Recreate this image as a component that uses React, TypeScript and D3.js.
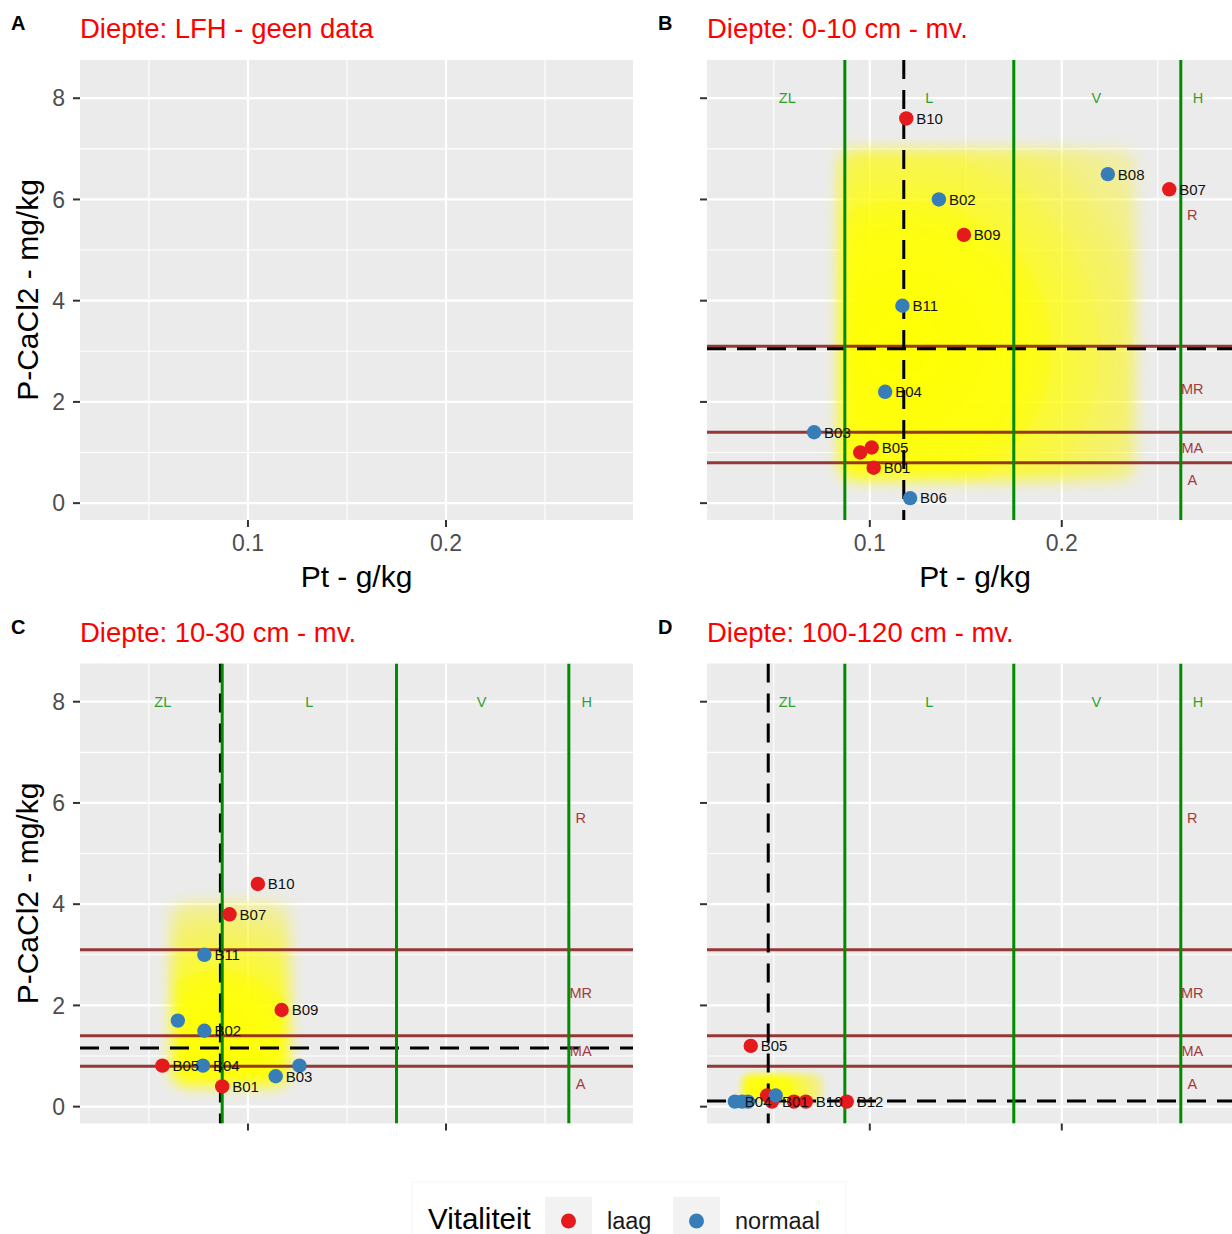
import React from 'react';
import * as d3 from 'd3';

const FONT = '"Liberation Sans", Arial, Helvetica, sans-serif';
const W = 1232;
const H = 1234;

// shared axes
const xDomain = [0.0152, 0.2944];
const yDomain = [-0.333, 8.755];
const xMajor = [0.1, 0.2];
const xMinor = [0.05, 0.15, 0.25];
const yMajor = [0, 2, 4, 6, 8];
const yMinor = [1, 3, 5, 7];

// class boundaries (Pt vertical, P-CaCl2 horizontal)
const ptBounds = [0.087, 0.175, 0.262];
const ptClasses = ['ZL', 'L', 'V', 'H'];
const ptClassX = [0.057, 0.131, 0.218, 0.271];
const ptClassY = 8;
const pBounds = [0.8, 1.4, 3.1];
const pClasses = ['A', 'MA', 'MR', 'R'];
const pClassY = [0.45, 1.1, 2.25, 5.7];
const pClassX = 0.268;

// panel B: 0-10 cm
const namesB = ['B10', 'B08', 'B07', 'B02', 'B09', 'B11', 'B04', 'B03', 'B05', 'B12', 'B01', 'B06'];
const ptB = [0.119, 0.224, 0.256, 0.136, 0.149, 0.117, 0.108, 0.071, 0.101, 0.095, 0.102, 0.121];
const pB = [7.6, 6.5, 6.2, 6.0, 5.3, 3.9, 2.2, 1.4, 1.1, 1.0, 0.7, 0.1];
const vitB = ['laag', 'normaal', 'laag', 'normaal', 'laag', 'normaal', 'normaal', 'normaal', 'laag', 'laag', 'laag', 'normaal'];
const hiddenB = ['B12'];
const medianB = [0.1177, 3.05];
const bandB = [0.0839, 0.2385, 0.44, 7.0];

// panel C: 10-30 cm
const namesC = ['B10', 'B07', 'B11', 'B09', 'B06', 'B02', 'B05', 'B04', 'B08', 'B03', 'B01'];
const ptC = [0.105, 0.0907, 0.078, 0.117, 0.0646, 0.078, 0.0568, 0.0773, 0.126, 0.114, 0.087];
const pC = [4.4, 3.8, 3.0, 1.91, 1.7, 1.5, 0.81, 0.81, 0.81, 0.6, 0.4];
const vitC = ['laag', 'laag', 'normaal', 'laag', 'normaal', 'normaal', 'laag', 'normaal', 'normaal', 'normaal', 'laag'];
const hiddenC = ['B06', 'B08'];
const medianC = [0.0861, 1.16];
const bandC = [0.0611, 0.1212, 0.4, 4.06];

// panel D: 100-120 cm
const namesD = ['B05', 'B06', 'B02', 'B04', 'B07', 'B01', 'B03', 'B09', 'B10', 'B12'];
const ptD = [0.038, 0.0335, 0.0365, 0.0297, 0.0465, 0.049, 0.051, 0.0605, 0.0667, 0.088];
const pD = [1.2, 0.1, 0.1, 0.1, 0.22, 0.1, 0.22, 0.1, 0.1, 0.1];
const vitD = ['laag', 'normaal', 'normaal', 'normaal', 'laag', 'laag', 'normaal', 'laag', 'laag', 'laag'];
const hiddenD = ['B06', 'B02', 'B07', 'B03', 'B09'];
const medianD = [0.0471, 0.11];
const bandD = [0.0332, 0.076, 0.13, 0.65];

const vitLevels = ['laag', 'normaal'];
const vitColors = ['#E41A1C', '#377EB8'];
const color = d3.scaleOrdinal<string, string>().domain(vitLevels).range(vitColors);

type Pts = { names: string[]; pt: number[]; p: number[]; vit: string[]; hidden: string[]; median: number[]; band: number[] };

const panels = [
  { tag: 'A', title: 'Diepte: LFH - geen data', left: 80, top: 60, width: 553, height: 460, xLab: true, yLab: true, data: null as Pts | null },
  { tag: 'B', title: 'Diepte: 0-10 cm - mv.', left: 707, top: 60, width: 536, height: 460, xLab: true, yLab: false,
    data: { names: namesB, pt: ptB, p: pB, vit: vitB, hidden: hiddenB, median: medianB, band: bandB } },
  { tag: 'C', title: 'Diepte: 10-30 cm - mv.', left: 80, top: 663.5, width: 553, height: 460, xLab: false, yLab: true,
    data: { names: namesC, pt: ptC, p: pC, vit: vitC, hidden: hiddenC, median: medianC, band: bandC } },
  { tag: 'D', title: 'Diepte: 100-120 cm - mv.', left: 707, top: 663.5, width: 536, height: 460, xLab: false, yLab: false,
    data: { names: namesD, pt: ptD, p: pD, vit: vitD, hidden: hiddenD, median: medianD, band: bandD } },
];

function Panel({ cfg }: { cfg: typeof panels[number] }) {
  const { tag, title, left, top, width, height, xLab, yLab, data } = cfg;
  const x = d3.scaleLinear().domain(xDomain).range([left, left + width]);
  const y = d3.scaleLinear().domain(yDomain).range([top + height, top]);
  const clip = `clip-${tag}`;
  const bottom = top + height;
  const right = left + width;

  let band = null;
  if (data) {
    const [bx0, bx1, by0, by1] = data.band;
    const rx = x(bx0), ry = y(by1), rw = x(bx1) - x(bx0), rh = y(by0) - y(by1);
    const cx = x(data.median[0]), cy = y(data.median[1]);
    const r = d3.max([[rx, ry], [rx + rw, ry], [rx, ry + rh], [rx + rw, ry + rh]], (c) => Math.hypot(c[0] - cx, c[1] - cy)) as number;
    const blur = Math.min(7, Math.min(rw, rh) * 0.12);
    band = (
      <g>
        <defs>
          <radialGradient id={`grad-${tag}`} gradientUnits="userSpaceOnUse" cx={cx} cy={cy} r={r}>
            <stop offset="0%" stopColor="#ffff00" stopOpacity={1} />
            <stop offset="40%" stopColor="#ffff00" stopOpacity={0.92} />
            <stop offset="75%" stopColor="#fbf520" stopOpacity={0.6} />
            <stop offset="100%" stopColor="#f8f040" stopOpacity={0.3} />
          </radialGradient>
          <filter id={`blur-${tag}`} x="-30%" y="-30%" width="160%" height="160%">
            <feGaussianBlur stdDeviation={blur} />
          </filter>
        </defs>
        <rect x={rx} y={ry} width={rw} height={rh} rx={Math.min(16, rh / 3)} fill={`url(#grad-${tag})`} filter={`url(#blur-${tag})`} />
      </g>
    );
  }

  return (
    <g fontFamily={FONT}>
      <defs>
        <clipPath id={clip}>
          <rect x={left} y={top} width={width} height={height} />
        </clipPath>
      </defs>
      <text x={tag === 'A' || tag === 'C' ? 11 : 658} y={top - 30} fontSize={20} fontWeight="bold" fill="#000">{tag}</text>
      <text x={left} y={top - 22} fontSize={27.5} fill="#FF0000">{title}</text>

      <rect x={left} y={top} width={width} height={height} fill="#EBEBEB" />
      <g clipPath={`url(#${clip})`}>
        {xMinor.map((v) => <line key={`xm${v}`} x1={x(v)} x2={x(v)} y1={top} y2={bottom} stroke="#fff" strokeWidth={1.1} />)}
        {yMinor.map((v) => <line key={`ym${v}`} y1={y(v)} y2={y(v)} x1={left} x2={right} stroke="#fff" strokeWidth={1.1} />)}
        {xMajor.map((v) => <line key={`xM${v}`} x1={x(v)} x2={x(v)} y1={top} y2={bottom} stroke="#fff" strokeWidth={2.2} />)}
        {yMajor.map((v) => <line key={`yM${v}`} y1={y(v)} y2={y(v)} x1={left} x2={right} stroke="#fff" strokeWidth={2.2} />)}

        {data && (
          <g>
            {band}
            {pBounds.map((v) => <line key={`pb${v}`} x1={left} x2={right} y1={y(v)} y2={y(v)} stroke="#8B2323" strokeOpacity={0.9} strokeWidth={3} />)}
            <line x1={left} x2={right} y1={y(data.median[1])} y2={y(data.median[1])} stroke="#000" strokeWidth={3} strokeDasharray="19 11" />
            <line x1={x(data.median[0])} x2={x(data.median[0])} y1={top} y2={bottom} stroke="#000" strokeWidth={3} strokeDasharray="19 11" />
            {ptBounds.map((v) => <line key={`tb${v}`} x1={x(v)} x2={x(v)} y1={top} y2={bottom} stroke="#008B00" strokeWidth={3} />)}
            {ptClasses.map((c, i) => (
              <text key={c} x={x(ptClassX[i])} y={y(ptClassY)} dy="0.35em" textAnchor="middle" fontSize={14.5} fill="#2EA02E">{c}</text>
            ))}
            {pClasses.map((c, i) => (
              <text key={c} x={x(pClassX)} y={y(pClassY[i])} dy="0.35em" textAnchor="middle" fontSize={14.5} fill="#A33B3B">{c}</text>
            ))}
            {data.names.map((n, i) => (
              <circle key={`pt${n}`} cx={x(data.pt[i])} cy={y(data.p[i])} r={7.2} fill={color(data.vit[i])} />
            ))}
            {data.names.map((n, i) => (data.hidden.includes(n) ? null : (
              <text key={`lb${n}`} x={x(data.pt[i]) + 10} y={y(data.p[i])} dy="0.36em" fontSize={15} fill="#111">{n}</text>
            )))}
          </g>
        )}
      </g>

      {/* ticks */}
      {xMajor.map((v) => <line key={`xt${v}`} x1={x(v)} x2={x(v)} y1={bottom} y2={bottom + 7} stroke="#333" strokeWidth={2} />)}
      {yMajor.map((v) => <line key={`yt${v}`} x1={left - 7} x2={left} y1={y(v)} y2={y(v)} stroke="#333" strokeWidth={2} />)}
      {xLab && xMajor.map((v) => (
        <text key={`xl${v}`} x={x(v)} y={bottom + 31} textAnchor="middle" fontSize={23} fill="#4D4D4D">{d3.format('.1f')(v)}</text>
      ))}
      {yLab && yMajor.map((v) => (
        <text key={`yl${v}`} x={left - 15} y={y(v)} dy="0.36em" textAnchor="end" fontSize={23} fill="#4D4D4D">{v}</text>
      ))}
      {xLab && <text x={(left + right) / 2} y={bottom + 67} textAnchor="middle" fontSize={30} fill="#000">Pt - g/kg</text>}
      {yLab && (
        <text transform={`translate(38,${(top + bottom) / 2}) rotate(-90)`} textAnchor="middle" fontSize={30} fill="#000">P-CaCl2 - mg/kg</text>
      )}
    </g>
  );
}

function Legend() {
  const keyX = [545, 673];
  const labX = [607, 735];
  return (
    <g fontFamily={FONT}>
      <rect x={412} y={1182} width={434} height={70} fill="#fff" stroke="#f6f6f6" strokeWidth={1} />
      <text x={428} y={1229} fontSize={29.5} fill="#000">Vitaliteit</text>
      {vitLevels.map((lv, i) => (
        <g key={lv}>
          <rect x={keyX[i]} y={1197} width={47} height={47} fill="#F2F2F2" />
          <circle cx={keyX[i] + 23.5} cy={1221} r={7.5} fill={color(lv)} />
          <text x={labX[i]} y={1229} fontSize={23.5} fill="#1a1a1a">{lv}</text>
        </g>
      ))}
    </g>
  );
}

export default function App() {
  return (
    <svg width={W} height={H} viewBox={`0 0 ${W} ${H}`} style={{ position: 'absolute', left: 0, top: 0, background: '#fff' }}>
      <rect x={0} y={0} width={W} height={H} fill="#fff" />
      {panels.map((p) => <Panel key={p.tag} cfg={p} />)}
      <Legend />
    </svg>
  );
}
